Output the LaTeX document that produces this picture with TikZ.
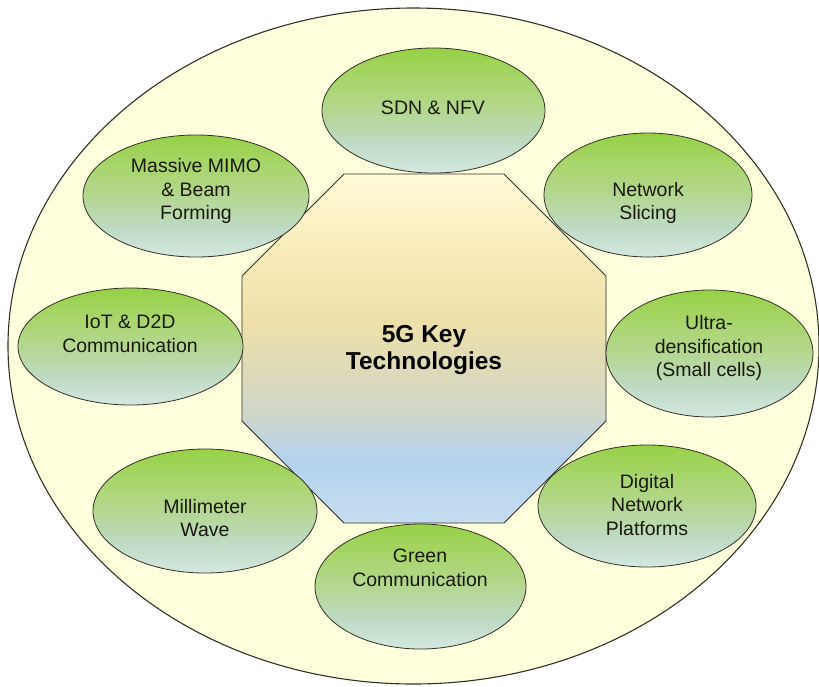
\documentclass[tikz,border=0pt]{standalone}
\usepackage{fontspec}
\setmainfont{Liberation Sans}
\usetikzlibrary{shapes.geometric}

\definecolor{bubA}{RGB}{150,209,70}
\definecolor{bubA2}{RGB}{168,213,108}
\definecolor{bubB}{RGB}{180,215,145}
\definecolor{bubC}{RGB}{190,218,196}
\definecolor{bubD}{RGB}{212,232,224}
\definecolor{coreA}{RGB}{255,250,215}
\definecolor{coreB}{RGB}{249,236,186}
\definecolor{coreC}{RGB}{238,224,168}
\definecolor{coreD}{RGB}{208,214,200}
\definecolor{coreE}{RGB}{180,210,238}
\definecolor{coreF}{RGB}{198,221,240}
\definecolor{ringfill}{RGB}{255,255,221}
\definecolor{edgegray}{RGB}{50,50,40}
\definecolor{inktext}{RGB}{25,25,15}

% vertical blends: 25bp = bottom edge, 75bp = top edge of the shaded path
\pgfdeclareverticalshading{bubbleshade}{100bp}{%
  color(0bp)=(bubD);
  color(25bp)=(bubD);
  color(37bp)=(bubC);
  color(50bp)=(bubB);
  color(62bp)=(bubA2);
  color(75bp)=(bubA);
  color(100bp)=(bubA)}
\pgfdeclareverticalshading{coreshade}{100bp}{%
  color(0bp)=(coreF);
  color(25bp)=(coreF);
  color(34bp)=(coreE);
  color(41bp)=(coreD);
  color(54bp)=(coreC);
  color(64bp)=(coreB);
  color(75bp)=(coreA);
  color(100bp)=(coreA)}

\tikzset{
  ring/.style={ellipse, draw=edgegray, line width=1.1pt, fill=ringfill, inner sep=0pt},
  bubble/.style={ellipse, draw=edgegray, line width=0.8pt, shade, shading=bubbleshade, inner sep=0pt},
  btext/.style={align=center, text=inktext, inner sep=0pt,
    font=\fontsize{19.5}{23.5}\selectfont},
  coretext/.style={align=center, text=black, inner sep=0pt,
    font=\fontsize{24.5}{27}\selectfont\bfseries},
  core/.style={draw=edgegray, line width=0.9pt, shade, shading=coreshade}
}

\begin{document}
\begin{tikzpicture}[x=1pt,y=-1pt]
  \useasboundingbox (0,0) rectangle (819,686);
  \fill[white] (0,0) rectangle (819,686);

  % outer pale ring
  \node[ring, minimum width=811pt, minimum height=676pt] (outer) at (413.5,346) {};

  % central octagon
  \path[core] (344,174) -- (504,174) -- (606,276) -- (606,421)
    -- (504,523) -- (344,523) -- (242,421) -- (242,276) -- cycle;
  \node[coretext] (keytech) at (424,350.5) {5G Key\\Technologies};

  % surrounding technology bubbles
  \node[bubble, minimum width=223pt, minimum height=125pt] (sdn) at (433.5,110.5) {};
  \node[btext] (sdnT) at (433,108) {SDN \& NFV};

  \node[bubble, minimum width=226pt, minimum height=122pt] (mimo) at (196,196) {};
  \node[btext] (mimoT) at (196,191) {Massive MIMO\\\& Beam\\Forming};

  \node[bubble, minimum width=208pt, minimum height=124pt] (slice) at (648,195) {};
  \node[btext] (sliceT) at (648,203) {Network\\Slicing};

  \node[bubble, minimum width=225pt, minimum height=117pt] (iot) at (130.5,346.5) {};
  \node[btext] (iotT) at (130,334) {IoT \& D2D\\Communication};

  \node[bubble, minimum width=207pt, minimum height=127pt] (ultra) at (709.5,353.5) {};
  \node[btext] (ultraT) at (709,348) {Ultra-\\densification\\(Small cells)};

  \node[bubble, minimum width=224pt, minimum height=124pt] (mmw) at (205,511) {};
  \node[btext] (mmwT) at (205,518) {Millimeter\\Wave};

  \node[bubble, minimum width=218pt, minimum height=122pt] (dnp) at (647,506) {};
  \node[btext] (dnpT) at (647,505) {Digital\\Network\\Platforms};

  \node[bubble, minimum width=211pt, minimum height=125pt] (green) at (420.5,586.5) {};
  \node[btext] (greenT) at (420,568) {Green\\Communication};
\end{tikzpicture}
\end{document}
